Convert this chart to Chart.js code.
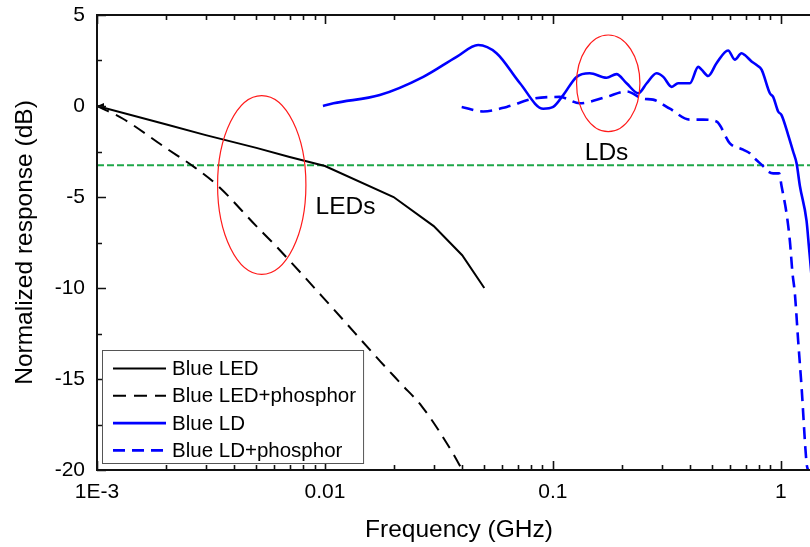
<!DOCTYPE html>
<html>
<head>
<meta charset="utf-8">
<script src="https://cdn.jsdelivr.net/npm/chart.js@4/dist/chart.umd.min.js"></script>
<style>
  html, body { margin: 0; padding: 0; overflow: hidden; background: #fff; }
  #wrap { width: 830px; height: 547px; }
</style>
</head>
<body>
<div id="wrap"><canvas id="c" width="830" height="547"></canvas></div>
<script>
// ---------- data (frequency in GHz, response in dB) ----------
const xTickValues = [0.001, 0.01, 0.1, 1];
const xTickLabels = ['1E-3', '0.01', '0.1', '1'];
const yTickValues = [5, 0, -5, -10, -15, -20];

const ledFreq = [0.001, 0.002, 0.003, 0.005, 0.007, 0.01, 0.02, 0.03, 0.04, 0.05];
const ledResp = [0, -1.0, -1.6, -2.3, -2.8, -3.3, -5.0, -6.6, -8.2, -10.0];

const ledPhFreq = [0.001, 0.0013, 0.002, 0.0027, 0.0034, 0.005, 0.0061, 0.0108, 0.0174, 0.0217, 0.0266, 0.0365, 0.04];
const ledPhResp = [0, -0.7, -2.3, -3.4, -4.4, -6.6, -7.7, -11.1, -14.0, -15.3, -16.5, -19.1, -20];

const ldFreq = [0.0098, 0.0109, 0.0174, 0.027, 0.0378, 0.047, 0.0566, 0.0717, 0.0907, 0.1003, 0.111, 0.127, 0.145, 0.172, 0.190, 0.2105, 0.237, 0.258, 0.285, 0.305, 0.332, 0.354, 0.399, 0.434, 0.449, 0.480, 0.522, 0.587, 0.628, 0.672, 0.695, 0.744, 0.783, 0.823, 0.895, 0.925, 0.973, 1.007, 1.077, 1.132, 1.172, 1.212, 1.296, 1.327, 1.40, 1.50];
const ldResp = [0.0, 0.15, 0.6, 1.6, 2.7, 3.35, 2.9, 1.25, -0.15, -0.05, 0.6, 1.6, 1.8, 1.55, 1.75, 1.25, 0.7, 1.25, 1.8, 1.6, 1.05, 1.25, 1.25, 2.15, 2.0, 1.65, 2.35, 3.05, 2.55, 2.9, 2.8, 2.45, 2.25, 2.0, 0.7, 0.5, -0.3, -0.5, -1.6, -2.5, -3.15, -4.4, -6.3, -7.7, -11, -16];

const ldPhFreq = [0.0398, 0.0495, 0.0627, 0.082, 0.107, 0.131, 0.172, 0.2105, 0.249, 0.275, 0.326, 0.399, 0.456, 0.522, 0.5975, 0.683, 0.731, 0.756, 0.851, 0.880, 0.925, 0.983, 1.007, 1.059, 1.095, 1.125, 1.152, 1.191, 1.232, 1.296, 1.314];
const ldPhResp = [-0.05, -0.3, -0.05, 0.4, 0.5, 0.15, 0.5, 0.8, 0.4, 0.35, -0.15, -0.75, -0.75, -0.85, -2.05, -2.4, -2.6, -2.8, -3.4, -3.6, -3.7, -3.7, -4.4, -5.9, -7.4, -9.2, -10.3, -12.9, -15.4, -19.6, -20];

const thresholdFreq = [0.001, 1.5];
const thresholdResp = [-3.25, -3.25];

// annotation ellipses (data-space bounds) and labels
const ellipseFreqLo = [0.00338, 0.127];
const ellipseFreqHi = [0.00825, 0.2408];
const ellipseTop = [0.57, 3.9];
const ellipseBottom = [-9.25, -1.41];
const noteText = ['LEDs', 'LDs'];
const noteFreq = [0.0091, 0.138];
const noteResp = [-5.93, -2.97];

// ---------- chart ----------
const FONT = '"Liberation Sans", Arial, Helvetica, sans-serif';
Chart.defaults.font.family = FONT;
Chart.defaults.color = '#000';

const pts = (xs, ys) => xs.map((v, i) => ({ x: v, y: ys[i] }));

const decor = {
  id: 'decor',
  afterDatasetsDraw(chart) {
    const { ctx, chartArea: ca, scales: { x, y } } = chart;
    ctx.save();
    // red ellipses
    for (let i = 0; i < ellipseFreqLo.length; i++) {
      const x1 = x.getPixelForValue(ellipseFreqLo[i]);
      const x2 = x.getPixelForValue(ellipseFreqHi[i]);
      const y1 = y.getPixelForValue(ellipseTop[i]);
      const y2 = y.getPixelForValue(ellipseBottom[i]);
      ctx.beginPath();
      ctx.ellipse((x1 + x2) / 2, (y1 + y2) / 2, (x2 - x1) / 2, (y2 - y1) / 2, 0, 0, Math.PI * 2);
      ctx.strokeStyle = '#ff1a1a';
      ctx.lineWidth = 1.2;
      ctx.stroke();
    }
    // notes
    ctx.fillStyle = '#000';
    ctx.font = '24.5px ' + FONT;
    ctx.textAlign = 'left';
    ctx.textBaseline = 'alphabetic';
    for (let i = 0; i < noteText.length; i++) {
      ctx.fillText(noteText[i], x.getPixelForValue(noteFreq[i]), y.getPixelForValue(noteResp[i]));
    }
    // small arrowhead at start of Blue LED curve
    const m0 = chart.getDatasetMeta(0).data[0];
    if (m0) {
      ctx.beginPath();
      ctx.moveTo(m0.x, m0.y);
      ctx.lineTo(m0.x + 7, m0.y - 3);
      ctx.lineTo(m0.x + 7, m0.y + 4);
      ctx.closePath();
      ctx.fillStyle = '#000';
      ctx.fill();
    }
    // axes frame
    ctx.strokeStyle = '#111';
    ctx.lineWidth = 2;
    ctx.beginPath();
    ctx.moveTo(ca.right + 10, ca.top);
    ctx.lineTo(ca.left, ca.top);
    ctx.lineTo(ca.left, ca.bottom);
    ctx.lineTo(ca.right + 10, ca.bottom);
    ctx.stroke();
    // x ticks (inward, bottom and top)
    ctx.beginPath();
    for (let d = -3; d <= 0; d++) {
      for (let m = 1; m <= 9; m++) {
        const v = m * Math.pow(10, d);
        if (v < x.min - 1e-12 || v > x.max) continue;
        const px = Math.round(x.getPixelForValue(v)) + 0.5;
        const len = m === 1 ? 9 : 5;
        ctx.moveTo(px, ca.bottom); ctx.lineTo(px, ca.bottom - len);
        ctx.moveTo(px, ca.top); ctx.lineTo(px, ca.top + len);
      }
    }
    ctx.lineWidth = 1.6;
    ctx.stroke();
    // y ticks (inward, left)
    ctx.beginPath();
    for (let v = -20; v <= 5; v += 2.5) {
      const py = Math.round(y.getPixelForValue(v)) + 0.5;
      const len = (v % 5 === 0) ? 9 : 5;
      ctx.moveTo(ca.left, py); ctx.lineTo(ca.left + len, py);
    }
    ctx.stroke();

    // legend
    const items = chart.data.datasets.filter(ds => ds.label);
    ctx.font = '20.5px ' + FONT;
    let maxW = 0;
    items.forEach(ds => { maxW = Math.max(maxW, ctx.measureText(ds.label).width); });
    const rowH = 27.3;
    const bx = ca.left + 5, bw = 70 + maxW + 7;
    const bh = 113, by = ca.bottom - 7 - bh;
    ctx.fillStyle = '#fff';
    ctx.fillRect(bx, by, bw, bh);
    ctx.strokeStyle = '#555';
    ctx.lineWidth = 1;
    ctx.strokeRect(bx + 0.5, by + 0.5, bw, bh);
    items.forEach((ds, i) => {
      const ry = by + 18.5 + i * rowH;
      ctx.beginPath();
      ctx.setLineDash(ds.borderDash || []);
      ctx.strokeStyle = ds.borderColor;
      ctx.lineWidth = ds.borderWidth;
      ctx.moveTo(bx + 11, ry);
      ctx.lineTo(bx + 64, ry);
      ctx.stroke();
      ctx.setLineDash([]);
      ctx.fillStyle = '#000';
      ctx.textBaseline = 'middle';
      ctx.textAlign = 'left';
      ctx.fillText(ds.label, bx + 70, ry + 1);
    });
    ctx.restore();
  }
};

new Chart(document.getElementById('c'), {
  type: 'line',
  data: {
    datasets: [
      { label: 'Blue LED', data: pts(ledFreq, ledResp), borderColor: '#000', borderWidth: 2, pointRadius: 0, tension: 0, fill: false },
      { label: 'Blue LED+phosphor', data: pts(ledPhFreq, ledPhResp), borderColor: '#000', borderWidth: 2, borderDash: [13, 8], pointRadius: 0, cubicInterpolationMode: 'monotone', fill: false },
      { label: 'Blue LD', data: pts(ldFreq, ldResp), borderColor: '#0000ff', borderWidth: 2.6, pointRadius: 0, cubicInterpolationMode: 'monotone', fill: false },
      { label: 'Blue LD+phosphor', data: pts(ldPhFreq, ldPhResp), borderColor: '#0000ff', borderWidth: 2.6, borderDash: [12, 7], pointRadius: 0, cubicInterpolationMode: 'monotone', fill: false },
      { label: '', data: pts(thresholdFreq, thresholdResp), borderColor: '#1fa84a', borderWidth: 2, borderDash: [7, 3], pointRadius: 0, fill: false }
    ]
  },
  options: {
    responsive: false,
    animation: false,
    devicePixelRatio: 1,
    layout: { padding: { top: 15, right: 9, left: 0, bottom: 0 } },
    plugins: { legend: { display: false }, tooltip: { enabled: false } },
    scales: {
      x: {
        type: 'logarithmic',
        position: 'bottom',
        min: 0.001,
        max: 1.5,
        grid: { display: false, drawTicks: false },
        border: { display: false },
        afterBuildTicks: s => { s.ticks = xTickValues.map(v => ({ value: v, major: true })); },
        afterFit: s => { s.height = 77; s.paddingLeft = 0; s.paddingRight = 0; },
        ticks: {
          autoSkip: false, maxRotation: 0, minRotation: 0, padding: 10,
          font: { size: 21 }, color: '#000',
          callback: (v) => { const i = xTickValues.findIndex(t => Math.abs(t - v) / t < 1e-6); return i >= 0 ? xTickLabels[i] : ''; }
        },
        title: { display: true, text: 'Frequency (GHz)', font: { size: 24.5 }, color: '#000', padding: { top: 0, bottom: 2 } }
      },
      y: {
        type: 'linear',
        min: -20,
        max: 5,
        grid: { display: false, drawTicks: false },
        border: { display: false },
        afterBuildTicks: s => { s.ticks = yTickValues.map(v => ({ value: v })); },
        afterFit: s => { s.width = 97; s.paddingTop = 0; s.paddingBottom = 0; },
        ticks: { padding: 12, font: { size: 21 }, color: '#000', callback: v => String(v) },
        title: { display: true, text: 'Normalized response (dB)', font: { size: 24.5 }, color: '#000', padding: { top: 11, bottom: 0 } }
      }
    }
  },
  plugins: [decor]
});
</script>
</body>
</html>
